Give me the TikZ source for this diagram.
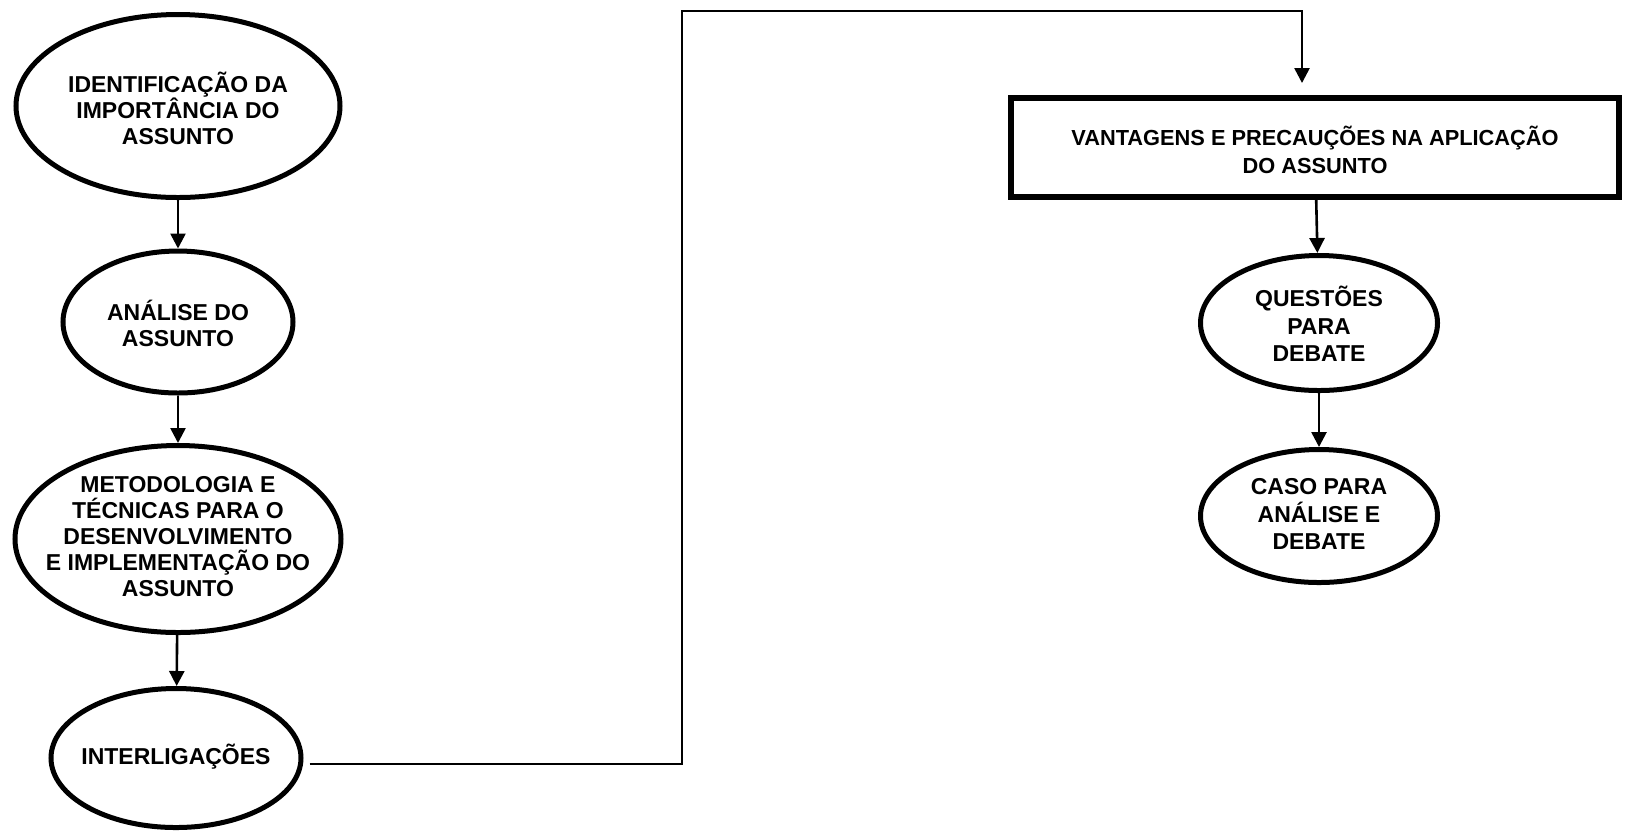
\documentclass[tikz,border=0pt]{standalone}
\usepackage{fontspec}
\setmainfont{Liberation Sans}
\usetikzlibrary{shapes.geometric,arrows.meta}

\begin{document}
\begin{tikzpicture}[x=0.5pt,y=-0.5pt,
  oval/.style={draw, ellipse, line width=2.5pt, inner sep=0pt},
  caixa/.style={draw, rectangle, line width=3pt, inner sep=0pt},
  texto/.style={align=center, inner sep=0pt, font=\fontsize{11.5}{13}\selectfont\bfseries},
  textob/.style={texto, font=\fontsize{11.5}{13.75}\selectfont\bfseries},
  seta/.style={line width=1.3pt, -{Triangle[length=7.5pt,width=7.5pt]}}]
\useasboundingbox (0,0) rectangle (1626,832);

% left column
\node[oval, minimum width=162pt, minimum height=91.5pt] (ident) at (178,106) {};
\node[oval, minimum width=115pt, minimum height=71pt] (analise) at (178,322) {};
\node[oval, minimum width=163pt, minimum height=93.5pt] (metod) at (178,539) {};
\node[oval, minimum width=125pt, minimum height=69.5pt] (inter) at (176,758) {};

\node[texto] (ident-t) at (178,108) {IDENTIFICAÇÃO DA\\IMPORTÂNCIA DO\\ASSUNTO};
\node[texto] (analise-t) at (178,323) {ANÁLISE DO\\ASSUNTO};
\node[texto] (metod-t) at (178,537) {METODOLOGIA E\\TÉCNICAS PARA O\\DESENVOLVIMENTO\\E IMPLEMENTAÇÃO DO\\ASSUNTO};
\node[texto] (inter-t) at (176,757) {INTERLIGAÇÕES};

% right column
\node[caixa, minimum width=304pt, minimum height=49.5pt] (vant) at (1315,147.5) {};
\node[oval, minimum width=118.5pt, minimum height=67.5pt] (quest) at (1319,323) {};
\node[oval, minimum width=118.5pt, minimum height=66.5pt] (caso) at (1319,516) {};

\node[textob, font=\fontsize{10.9}{13.75}\selectfont\bfseries] (vant-t) at (1315,150) {VANTAGENS E PRECAUÇÕES NA APLICAÇÃO\\DO ASSUNTO};
\node[textob] (quest-t) at (1319,324) {QUESTÕES\\PARA\\DEBATE};
\node[textob] (caso-t) at (1319,514) {CASO PARA\\ANÁLISE E\\DEBATE};

% arrows
\draw[seta] (ident) -- (analise);
\draw[seta] (analise) -- (metod);
\draw[seta] (metod) -- (inter);
\draw[seta] (vant) -- (quest);
\draw[seta] (quest) -- (caso);

% long connector over the top
\coordinate (volta) at (682,11);
\draw[seta, shorten >=6pt] ([xshift=3pt,yshift=-3pt]inter.east) -| (volta) -| ([xshift=-6.5pt]vant.north);

\end{tikzpicture}
\end{document}
